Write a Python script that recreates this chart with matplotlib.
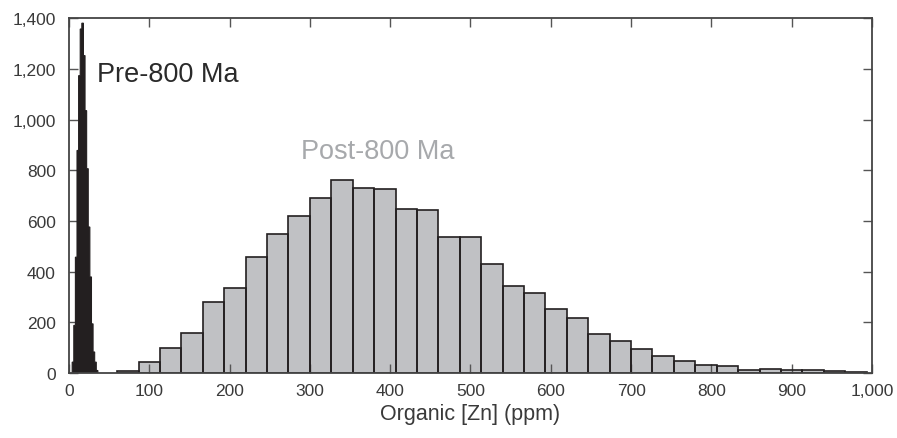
import matplotlib
matplotlib.use("Agg")
import matplotlib.pyplot as plt
import numpy as np
from matplotlib.ticker import FuncFormatter

plt.rcParams['font.family'] = ['Liberation Sans', 'DejaVu Sans']

# Pre-800 Ma histogram (bin width 2 ppm, starting at 4 ppm)
pre_start = 4.0
pre_width = 2.0
pre_counts = [43, 188, 457, 878, 1173, 1357, 1380, 1252, 1035, 806, 576, 379, 194, 83, 43, 10]

# Post-800 Ma histogram (bin width 80/3 ppm, starting at 60 ppm)
post_start = 60.0
post_width = 80.0 / 3.0
post_counts = [9, 42, 97, 156, 279, 334, 459, 548, 619, 689, 761, 731, 727,
               648, 643, 536, 536, 431, 342, 314, 254, 216, 155, 126, 95, 68,
               46, 33, 28, 12, 17, 10, 12, 7, 5]

xticks = [0, 100, 200, 300, 400, 500, 600, 700, 800, 900, 1000]
yticks = [0, 200, 400, 600, 800, 1000, 1200, 1400]

pre_edges = pre_start + pre_width * np.arange(len(pre_counts) + 1)
post_edges = post_start + post_width * np.arange(len(post_counts) + 1)

fig = plt.figure(figsize=(8.97, 4.39), dpi=100)
ax = fig.add_axes([0.0769, 0.148, 0.8952, 0.8085])

ax.stairs(post_counts, post_edges, fill=True, facecolor='#c0c1c4', edgecolor='none', zorder=1)
ax.bar(post_edges[:-1], post_counts, width=post_width, align='edge',
       facecolor='none', edgecolor='#231f20', linewidth=1.2, zorder=3)
ax.stairs(pre_counts, pre_edges, fill=True, facecolor='#231f20', edgecolor='none',
          linewidth=0, zorder=3, snap=False)
ax.stairs(pre_counts, pre_edges, fill=False, color='#231f20', linewidth=0.8,
          zorder=3, snap=False)

ax.set_xlim(0, 1000)
ax.set_ylim(0, 1400)
ax.set_xticks(xticks)
ax.set_yticks(yticks)
fmt = FuncFormatter(lambda v, p: f"{int(v):,}")
ax.xaxis.set_major_formatter(fmt)
ax.yaxis.set_major_formatter(fmt)

ax.tick_params(axis='both', direction='in', length=6.5, width=1.0, color='#555555',
               labelsize=12.5, labelcolor='#3a3a3a', top=True, right=True)
ax.tick_params(axis='y', pad=9.5)
ax.tick_params(axis='x', pad=7)
for s in ax.spines.values():
    s.set_color('#444444')
    s.set_linewidth(1.3)
    s.set_zorder(4)
ax.set_axisbelow(False)

ax.set_xlabel('Organic [Zn] (ppm)', fontsize=15.5, color='#3a3a3a', labelpad=4)

ax.text(35, 1179, 'Pre-800 Ma', fontsize=19.5, color='#2a2a2a', ha='left', va='center')
ax.text(384, 875, 'Post-800 Ma', fontsize=19.5, color='#a7a9ac', ha='center', va='center')

fig.savefig('out.png', dpi=100)
